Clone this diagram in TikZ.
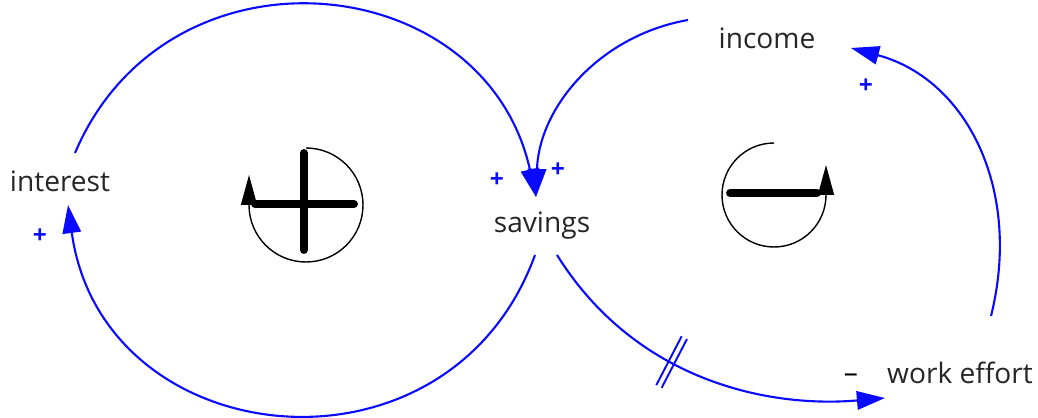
\documentclass[tikz,border=0pt]{standalone}
\usepackage{fontspec}
\setmainfont{Open Sans}
\usepackage{tikz}
\usetikzlibrary{positioning}
\usetikzlibrary{arrows.meta}
\usetikzlibrary{decorations.markings}
\definecolor{linkblue}{RGB}{10,10,255}
\tikzset{>={Triangle[length=16pt,width=10.5pt]}}
\tikzset{
  varname/.style={inner sep=0pt, outer sep=0pt, text=black!85, font=\fontsize{16}{19}\selectfont},
  link/.style={draw=linkblue, line width=1.2pt, ->},
  polarity/.style={inner sep=0pt, text=linkblue, font=\fontsize{14}{16}\selectfont\bfseries},
  loopline/.style={line width=0.8pt, -{Triangle[length=0.6cm,width=0.32cm]}},
  loopsign/.style={line width=4.5pt, line cap=round},
  delaymark/.style={postaction=decorate, decoration={markings,
    mark=at position 0.42 with {\draw[-, linkblue, line width=1.1pt] (-0.06,-0.55) -- (-0.06,0.55) (0.06,-0.55) -- (0.06,0.55);}}}
}

\begin{document}
\begin{tikzpicture}
\useasboundingbox (0,0) rectangle (20.76,8.34);
% variables
\node[varname] (interest) at (1.2,4.72) {interest};
\node[varname] (savings) at (10.84,3.82) {savings};
\node[varname] (income) at (15.34,7.58) {income};
\node[varname] (work) at (19.2,0.88) {work effort};
% links
\draw[link] ([shift={(0.3,0.56)}]interest.center) .. controls +(67:4.72) and +(102.5:4.72) .. ([shift={(-0.12,0.58)}]savings.center);
\draw[link] ([shift={(-0.14,-0.58)}]savings.center) .. controls +(-110:5.05) and +(-82.2:5.05) .. ([shift={(0.16,-0.48)}]interest.center);
\draw[link] ([shift={(-1.58,0.36)}]income.center) .. controls +(190:1.8) and +(88:1.8) .. ([shift={(-0.12,0.58)}]savings.center);
\draw[link, delaymark] ([shift={(0.3,-0.58)}]savings.center) .. controls +(-58:3) and +(185:2.3) .. ([shift={(-1.5,-0.5)}]work.center);
\draw[link] ([shift={(0.62,1.14)}]work.center) .. controls +(76:2.6) and +(-15:2.4) .. ([shift={(1.68,-0.2)}]income.center);
% polarities
\node[polarity] (p1) at (0.8,3.62) {+};
\node[polarity] (p2) at (9.94,4.74) {+};
\node[polarity] (p3) at (11.16,4.94) {+};
\node[polarity] (p4) at (17.32,6.62) {+};
\node[varname, text=black] (p5) at (17.02,0.78) {–};
% loop markers
\draw[loopline] (6.12,5.38) arc[start angle=90, end angle=-180, radius=1.14] -- ++(0,0.6);
\draw[loopsign] (5.1,4.26) -- (7.08,4.26);
\draw[loopsign] (6.08,5.28) -- (6.08,3.34);
\draw[loopline] (15.48,5.48) arc[start angle=90, end angle=360, radius=1.04] -- ++(0,0.6);
\draw[loopsign] (14.6,4.48) -- (16.34,4.48);
\end{tikzpicture}
\end{document}
